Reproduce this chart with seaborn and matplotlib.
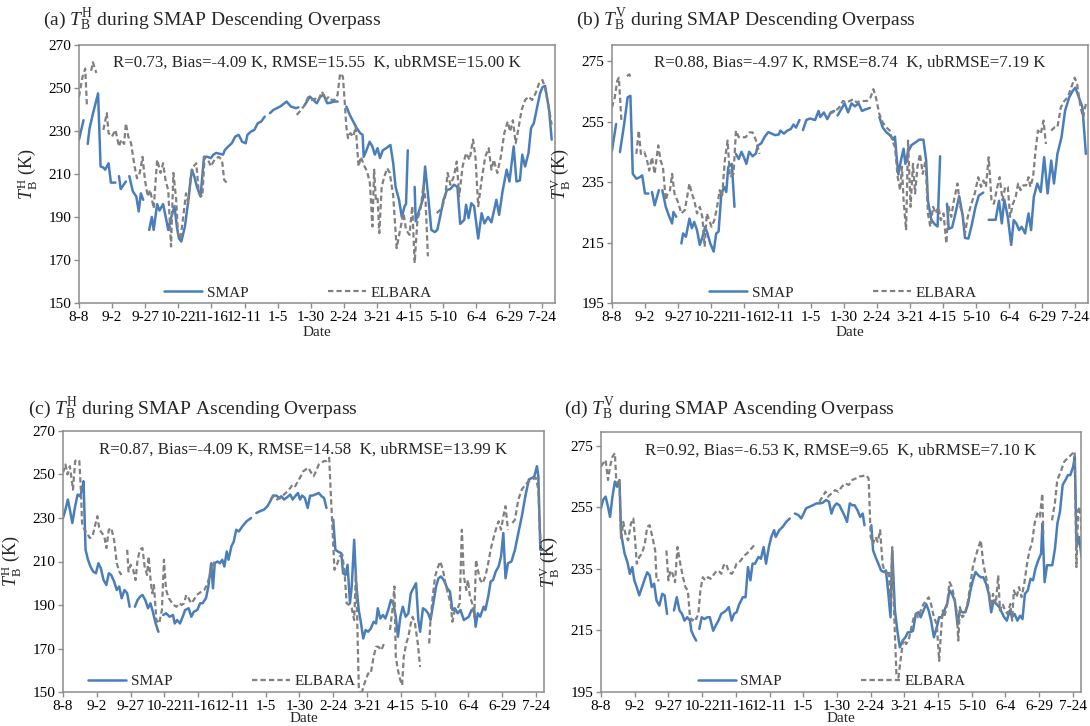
import numpy as np
import pandas as pd
import matplotlib
matplotlib.use("Agg")
import matplotlib.pyplot as plt
from matplotlib.lines import Line2D
import seaborn as sns

# Date ticks every 25 days starting at 8-8
TICK_LABELS = ["8-8", "9-2", "9-27", "10-22", "11-16", "12-11", "1-5", "1-30",
               "2-24", "3-21", "4-15", "5-10", "6-4", "6-29", "7-24"]
TICK_STEP = 25

# (day since 8-8, brightness temperature in K); None marks a gap in the record
A_SMAP = [(0, 226), (3.4, 235), None,
          (6.6, 224), (7.9, 231), (10.5, 238), (14.4, 247.5), (16.3, 213.5), (18.4, 213), (19.7, 212), (22.3, 215), (24.1, 206), (27.5, 206), None,
          (30.2, 209), (31.5, 203), (35.4, 206.5), None,
          (38, 209), (40.6, 202), (43.3, 199.5), (45.1, 192.6), (46.7, 201), (48.5, 198), None,
          (53, 184), (55, 190), (56.4, 184), (59, 196), (60.8, 193), (63.5, 196), (65.5, 190), (67.4, 184), (69.5, 189.5), (72.1, 195),
          (73.9, 185.6), (75.5, 180), (77.3, 178.6), (80, 185.6), (82.6, 198), (85.2, 212), (87, 209), (89.1, 204), (91.8, 199.5),
          (94.4, 218), (97, 218), (99.6, 217.4), (101.5, 219), (103.6, 219.8), (106.2, 219.4), (108.8, 219), (110, 221), (112.7, 222.8),
          (115.4, 224.3), (118, 227.4), (120.6, 228.2), (123.2, 225), (125.9, 224.3), (127.2, 228.2), (129.8, 229.7), (132.4, 230.5),
          (135, 233.6), (137.6, 234.4), (140.3, 236.7), None,
          (144.2, 238.3), (146.8, 239.8), (149.4, 240.6), (152, 241.4), (156.8, 243.7), (160, 241.4), (163.9, 240.6), (165.7, 241), None,
          (170.4, 242), (174.4, 246), (177, 244.4), (179.6, 242.9), (182.2, 246), (184.8, 246.8), (187.5, 242.9), (190, 243.2),
          (192.7, 243.7), (195.3, 243.7), None,
          (201.9, 241.4), (204.5, 237.5), (207.1, 234.4), (209.8, 231.3), (212.4, 229), (214.2, 228.2), (215, 218), (217.1, 221),
          (219.5, 225), (221.6, 222.8), (223.4, 219), (225.5, 222), (227.3, 217.4), (229.4, 221), (232, 222), (235.2, 223.5),
          (237.3, 215), (239.1, 204), (241.7, 198), (243.8, 190), (245.9, 195), (247, 196), (248.3, 221), None,
          (253.5, 204), (254.3, 188), (256.9, 193), (259.6, 198), (261.4, 213.5), (263.5, 201), (266.1, 184), (268.7, 183),
          (270.6, 184), (272.7, 190), (275.3, 198), (277.9, 202.6), (280.5, 203), (283.2, 205), (285.8, 204), (287.9, 186.8),
          (291, 188.7), (292.3, 195.7), (294.2, 189.5), (296.3, 196.4), (298.4, 195), (301.5, 180), (304.1, 191.8), (306.2, 187),
          (308.9, 190), (311.5, 187.5), (315.2, 198), (317.3, 191), (319.9, 202), (323, 212), (325.1, 206.5), (328.3, 222.8),
          (330.4, 206.5), (333, 207), (334.8, 219), (336.9, 213.5), (339.5, 219.8), (341.4, 231.3), (343.5, 233.6), (346.1, 241.4),
          (348.2, 247.5), (350, 250.3), (352, 251), (355, 240), (357, 226)]

A_ELBARA = [(0, 246), (2.6, 255), (4.7, 259), (6, 241.4), None,
            (9.2, 258), (10.5, 262), (13.1, 257), None,
            (18.4, 230.5), (21, 238.3), (22.3, 229), (24.9, 227.4), (27.5, 230.5), (30.2, 222.8), (32, 226), (34.1, 224),
            (35.4, 233.6), (37.2, 227.4), (39.3, 224.3), (42, 213.5), (43.8, 208), (45.9, 210.5), (48, 218), (49.8, 207.3),
            (51.9, 199.5), (53.7, 202.6), (56.4, 194), (59, 216.6), (61.6, 210.5), (63.5, 215), (65.5, 206.5), (67.4, 202.6),
            (69.5, 176.3), (71.3, 210.5), (73.4, 198), (74.7, 182.5), (76.6, 180), (78.7, 190), (80.8, 201), (82.6, 196.4),
            (84.4, 209), (86.5, 213.5), (88.6, 215), (90.5, 201), (93.1, 199.5), (94.9, 218), (97.5, 216.6), (99.6, 213.5),
            (102.3, 216.6), (105.4, 218), (108, 216.6), (109.6, 207.3), (111.4, 206), None,
            (164.4, 237.5), (167.8, 239.8), (170.4, 242), (173, 245.7), (175.7, 244.4), (178.3, 245), (180.9, 244.4),
            (183.5, 248.3), (186.2, 244.4), (188.8, 246), (190.9, 244.4), (192.7, 244.4), (195.3, 246.8), (197.2, 256.8),
            (199.3, 255.3), (200.6, 244.4), (201.9, 232), (203.2, 226.6), (205, 229), (207.1, 227.4), (209, 232), (211.1, 213.5),
            (212.9, 218), (215, 214.3), (217.6, 211.2), (219.7, 205.7), (221.6, 185.6), (222.9, 212), (224.2, 198), (225.5, 199),
            (226.8, 182.5), (228.6, 204), (230.7, 209), (232.8, 212.7), (234.7, 210.5), (237.3, 200), (239.9, 175.5),
            (242.5, 184), (245.1, 191.8), (247, 184), (249.6, 181.7), (251.7, 195), (253.5, 168.6), (255.6, 188.7), (258.3, 195),
            (260.1, 205), (261.7, 198), (263.5, 171.7), None,
            (270.1, 191.8), (274, 194), (276.6, 199.5), (278.4, 210.5), (280.5, 205), (283.2, 209), (285.3, 215.8),
            (287.1, 199.5), (289.7, 213.5), (292.3, 219.7), (295, 216.6), (297.6, 226), (299.4, 218), (301.5, 195),
            (304.1, 207.3), (306.8, 218), (309.4, 222), (311.5, 212), (313.3, 216.6), (315.9, 210.5), (318.6, 218), (321.2, 229),
            (323.8, 234.4), (325.6, 229.7), (327.7, 235), (329.8, 224.3), (331.7, 230.5), (334.3, 239.8), (336.9, 244.4),
            (339.5, 246), (342.2, 244.4), (344.8, 247.5), (347.4, 252), (350, 253.7), (352, 250), (355, 240), (357, 233)]

B_SMAP = [(0, 245.4), (3.1, 254.2), None,
          (6, 244.9), (9.2, 254.2), (11.8, 263), (13.9, 263.5), (15.7, 237.7), (18.4, 236.1), (21, 236.6), (22.8, 237.2),
          (24.9, 231.2), (27.5, 231.2), None,
          (30.2, 231.7), (32.2, 227.3), (35.4, 232.3), None,
          (38, 232.3), (40.6, 226.8), (43.3, 223.5), (45.4, 221.3), (46.4, 225.1), (48.5, 223.5), None,
          (52.4, 214.7), (53.7, 218), (55.8, 216.9), (58.5, 222.9), (60.3, 219.7), (62.1, 221.8), (64.2, 219.1), (66.3, 214.2),
          (68.4, 216.9), (70.3, 220.2), (72.1, 218), (74.2, 214.7), (76.8, 212), (78.7, 218), (80.5, 218.6), (82.6, 231.2),
          (84.7, 233.4), (86.3, 231.7), (87.8, 240), (90.5, 241), (92.5, 226.8), None,
          (93.6, 244.3), (95.7, 242.6), (97.8, 245), (99.6, 243.2), (101.5, 241), (103.6, 245), (106.2, 243.5), (108.8, 244.5),
          (110, 247), (112.7, 247.8), (115.4, 250), (118, 251.5), (120.6, 251), (123.2, 250.5), (125.9, 250.7), (127.2, 252),
          (129.8, 251), (132.4, 252), (135, 252.5), (137.1, 254), (139, 253), (141.6, 255.5), None,
          (144.2, 252.2), (146.8, 255.5), (149.4, 256), (153.4, 255.5), (156, 258.5), (157.3, 256.5), (160, 258), (162.6, 255.8),
          (165.2, 258), (167.8, 258.5), None,
          (170.4, 257), (173, 259), (175.7, 261), (178.3, 258), (180.9, 261), (183.5, 260), (186.2, 261), (188.8, 258.5),
          (191.4, 259), (194.8, 259.5), None,
          (201.9, 256.5), (204.5, 253), (207.1, 251.5), (209.8, 250.5), (212.4, 249), (213.7, 250), (215, 243), (216.3, 237.5),
          (218.4, 242.5), (220.2, 246), (221.6, 241), (223.6, 245), (226.2, 247.2), (228.9, 248), (232, 249), (235.2, 249),
          (237.3, 242), (238.6, 228.8), (241.2, 222.5), (243.8, 221), (245.9, 220.3), (247.8, 243.5), None,
          (253, 227.8), (254.3, 219.5), (256.9, 220), (259.6, 225), (262.2, 230.3), (264.8, 224), (266.6, 216.5), (269.2, 216.3),
          (271.8, 221), (274.4, 226.5), (277, 230.5), (280.4, 231.5), None,
          (284.5, 222.5), (289.7, 222.5), (292.3, 228.8), (294.4, 221.3), (296.3, 229.2), (298.9, 223.5), (301.5, 214.2),
          (303.4, 222.4), (305.4, 221.3), (307.5, 219.1), (309.4, 220.2), (312, 218), (314.6, 224.6), (316.5, 219.1),
          (318.6, 230.1), (321.2, 234.5), (323.8, 231.7), (326.4, 243.2), (329, 231.2), (331.7, 242.1), (333.8, 234.5),
          (336.4, 244.3), (339.5, 249.8), (342.2, 258.6), (345.3, 263), (347.9, 265.1), (350, 266.2), (352.6, 263),
          (355.3, 259.7), (357.9, 244.3)]

B_ELBARA = [(0, 259.7), (2.1, 263), (3.9, 268.4), (5.2, 269.5), (7.1, 255.2), None,
            (11.3, 270), (13.1, 270.6), (14.4, 269), None,
            (18.4, 244.3), (20.2, 252), (21.8, 244.3), (24.4, 244.9), (26.2, 242.7), (28.1, 238.8), (30.2, 243.2), (32.2, 237.7),
            (34.9, 247.1), (36.7, 242.1), (38.5, 239.9), (40.6, 229), (42, 231.2), (43.8, 232.3), (45.4, 237.7), (47.2, 231.2),
            (49.8, 228.4), (52.4, 224.6), (55, 225.7), (58.5, 234.5), (60.3, 231.2), (62.1, 229), (64.2, 224.6), (66.3, 226.8),
            (68.2, 223.5), (70, 213.6), (71.6, 224.6), (73.4, 222.4), (75.2, 220.2), (77.3, 222.4), (79.4, 226.8), (81.3, 232.3),
            (83.1, 230.1), (85.2, 242.1), (87.3, 248.7), (89.1, 236.6), (91.8, 237.7), (93.6, 252), (95.7, 249.8), (98.3, 249.8),
            (100.9, 249.8), (103.6, 251.4), (106.2, 251.4), (108.8, 248.7), (111.4, 244.3), None,
            (163.9, 257.5), (166.5, 258), (169.1, 258.6), (171.7, 259.7), (174.4, 261.8), (177, 261.3), (179.6, 261.8),
            (182.2, 262.4), (184.8, 261.3), (187.5, 261.8), (190, 261.8), (192.7, 261.8), (195.3, 263), (197.4, 265.7),
            (199.3, 263), (201.9, 257.5), (204.5, 254.7), (207.1, 253.1), (209.8, 252), (211.8, 248.7), (213.7, 246.5),
            (215.8, 236.6), (217.6, 232.3), (219, 240), (220.2, 229), (222.1, 219.1), (223.6, 248.7), (225.5, 226.8), (227.3, 241),
            (228.9, 231.2), (230.7, 240), (232.6, 244.3), (234.7, 237.7), (236.8, 242.1), (238.6, 224.6), (240.4, 220.2),
            (242.5, 226.8), (244.6, 224.6), (246.5, 226.8), (248.3, 222.4), (250.4, 224.6), (252.5, 214.7), (254.3, 226.8),
            (256.2, 223.5), (258.3, 229), (260.9, 234.5), (263, 226.8), (264.8, 224.6), (266.6, 218), (268.7, 223.5),
            (271.4, 227.8), (274, 231.2), (276.6, 236.6), (278.7, 233.4), (280.5, 235.5), (282.4, 233.4), (284.5, 243.2),
            (286.6, 229), (288.4, 227.8), (291, 233.4), (292.8, 236.6), (294.9, 229), (297, 233.4), (298.9, 233.4),
            (300.7, 223.5), (302.8, 227.8), (304.9, 230.1), (306.7, 234.5), (308.6, 232.3), (310.7, 233.9), (312.8, 233.9),
            (314.6, 236.6), (316, 233.4), (318, 236.6), (319.9, 245.4), (321.7, 252), (323.8, 250.9), (325.9, 255.3),
            (327.7, 247.6), None,
            (331.7, 252), (334.3, 253.1), (336.4, 253.1), (339, 259.7), (341.6, 261.8), (344.2, 263), (346.8, 266.2),
            (349.5, 269.5), (351.3, 267.3), (353.9, 259.7), (355.8, 256.4), (357.9, 260.8)]

C_SMAP = [(0, 230), (1.8, 233.8), (3.6, 238.5), (5.1, 233.8), (6.9, 227.7), (9, 235.4), (10.8, 240.8), (12.6, 240), (14.1, 243),
          (15.2, 246.9), (16.7, 215.4), (18.5, 210.8), (20.3, 207.7), (22.3, 205.4), (24.4, 204.6), (26.2, 209.2), (28, 206.9),
          (30, 201.5), (32.1, 199.2), (33.9, 204.6), (35.7, 203.8), (37.8, 200.8), (39.8, 196.9), (41.6, 198.5), (43.4, 193.1),
          (45.5, 196.9), (47.5, 195.4), (49.3, 189.2), None,
          (53.2, 189.2), (55.2, 192.3), (57, 193.8), (58.8, 194.6), (60.9, 192.3), (62.9, 188.5), (64.7, 190.8), (66.5, 186.9),
          (68.6, 181.5), (70.6, 177.7), None,
          (74.2, 185.4), (76.3, 186.2), (78.9, 184.6), (81.4, 185.4), (82.7, 181.5), (84.5, 183.1), (86.6, 181.5), (88.6, 184.6),
          (90.4, 187.7), (93, 188.5), (95, 184.6), (96.8, 186.9), (99.4, 187.7), (101.5, 190.8), (103.3, 190.8), (105.8, 193.1),
          (107.6, 198.5), (109.7, 209.2), (111, 197.7), (112.3, 209.2), (114.3, 210), (116.1, 209.2), (117.9, 210.8),
          (119.4, 207.7), (121.2, 214.6), (122.5, 210.8), (124.6, 216.9), (126.4, 219.2), (128.2, 224.6), (130.2, 223.8),
          (132.8, 226.2), (135.9, 228.5), (139.2, 230), None,
          (143.1, 232.3), (145.6, 233.1), (148.7, 233.8), (151.3, 235.4), (153.4, 237.7), (155.4, 240.3), (158, 240.3),
          (159.8, 239.2), (161.6, 240), (163.6, 238.5), (166.2, 239.7), (168.2, 240.8), (170, 238.5), (171.8, 240),
          (173.9, 241.5), (175.4, 238.5), (177, 240.3), (179, 239.2), (181.1, 234.6), (182.9, 240.3), (184.7, 240.3),
          (186.7, 240.8), (189.3, 241.5), (191.4, 240), (193.2, 239.2), (195, 234.6), None,
          (200, 229.2), (201.6, 215.4), (203.4, 214.6), (206, 213.8), (207.3, 204.6), (209.1, 203.8), (210.6, 208.5),
          (212.4, 190.8), (213.7, 198.5), (215.5, 220), (217, 200), (218.9, 187.7), (220.6, 181.5), (222.2, 174.6),
          (224, 178.5), (225.8, 177.7), (227.8, 179.2), (229.9, 182.3), (231.7, 181.5), (233, 188.5), (234.8, 183.8),
          (236.8, 185.4), (238.6, 183.8), (240.7, 187.7), (242.7, 192.3), (244.5, 190.8), (246.3, 184.6), (247.9, 175.4),
          (249.7, 184.6), (251.5, 189.2), (253.6, 184.6), (255.6, 186.2), (257.4, 195.4), (260, 198.5), (261.3, 200),
          (263, 183.1), (264.3, 177.7), (266.4, 188.5), (268.4, 187.7), (270.2, 186.2), (272, 183.1), (274.1, 190.8),
          (276.1, 198.5), (277.9, 202.3), (279.7, 203.1), (281.8, 201.5), (284.4, 197.7), (286.4, 196.2), (288.2, 187.7),
          (290, 188.5), (292.1, 186.2), (294.2, 187.7), (296.7, 183.1), (298.5, 183.8), (300.3, 184.6), (302.4, 187.7),
          (304.4, 187.7), (305.4, 180), (307, 186.2), (308.8, 184.6), (311.3, 189.2), (312.6, 187.7), (314.7, 193.8),
          (316.5, 200.8), (318.3, 201.5), (320.3, 205.4), (322.4, 207.7), (324.2, 212.3), (325.9, 223.1), (327.5, 202.3),
          (329.3, 209.2), (331.9, 210), (334.5, 215.4), (337, 223.1), (339.6, 230.8), (342.2, 240), (344.8, 247.7),
          (348.7, 248.9), (350.8, 253.8), (351.8, 249.2), (353.3, 215.4), (355, 215.4)]

C_ELBARA = [(0, 250.8), (1.8, 254.6), (3.3, 250), (5.1, 253.8), (6.4, 247.7), (7.4, 243), (9, 256.2), (10.8, 256.9),
            (12.1, 256.2), (13.4, 240.8), (14.1, 227.7), (15.9, 224.6), (17.7, 223.1), (19.8, 220.8), (21.8, 221.5),
            (23.6, 226.2), (25.4, 230.8), (27, 224.6), (28.8, 223.1), (30.6, 221.5), (32.1, 216.2), (33.9, 224.6),
            (35.7, 225.4), (37.8, 220), (39.8, 209.2), (41.6, 205.4), (43.4, 203.8), None,
            (47.5, 215.4), (48.5, 205.4), (50.1, 208.5), (51.9, 206.2), (53.7, 201.5), (55.2, 210.8), (57, 215.4), (58.8, 216.2),
            (60.4, 207.7), (62.2, 203.8), (63.4, 212.3), (64.7, 202.3), (66, 195.4), (67.3, 199.2), (69.1, 183.1), (71.2, 181.5),
            (73.2, 187.7), (74.7, 210.8), (76.3, 196.9), (78.3, 193.1), (80.2, 191.5), (81.9, 190), (84, 189.2), (86.1, 190.8),
            (87.9, 190), (89.6, 190.8), (91.2, 194.6), (93, 193.1), (94.8, 190.8), (96.8, 192.3), (98.9, 194.6), (100.7, 195.4),
            (102.5, 196.2), (104.5, 196.9), (106.6, 199.2), (108.4, 203.1), (110.2, 207.7), (112.3, 210), None,
            (153.4, 238.5), (155.9, 240), (158.5, 238.5), (161.1, 239.2), (163.6, 240.8), (166.2, 242.3), (168.2, 243.8),
            (170, 245.4), (171.8, 244.6), (173.9, 246.9), (176, 249.2), (177.8, 251.5), (179.6, 252.3), (181.6, 253.1),
            (183.7, 250.8), (185.5, 249.2), (187.3, 251.5), (189.3, 254.6), (191.4, 255.4), (193.2, 256.2), (195, 256.2),
            (197, 257.7), (198.3, 240), (199.5, 224.6), (200.9, 206.2), (202.7, 208.5), (204.7, 212.3), (206.8, 213.1),
            (208.6, 203.1), (209.9, 190.8), (211.9, 190), (213.7, 188.5), (215.5, 183.1), (216.8, 204.6), (217.6, 187.7),
            (218.9, 152.3), (220.6, 148), (222.2, 152.3), (224, 155.4), (225.8, 158.5), (227.8, 158.5), (229.9, 166.2),
            (231.7, 170.8), (233.5, 170.8), (235.6, 169.2), (237.6, 172.3), None,
            (242, 178.5), (243.8, 187.7), (245.3, 198.5), (246.3, 166.2), (247.9, 160), (249.7, 155.4), (251, 153.1),
            (252.2, 166.2), (254, 172.3), (255.6, 175.4), (257.4, 181.5), (258.7, 184.6), (260.5, 181.5), (262.6, 172.3),
            (264.3, 161.5), None,
            (271, 172.3), (272, 183.1), (273.6, 193.8), (275.4, 203.1), (277.2, 206.9), (279.2, 210), (281.2, 206.2),
            (283, 200), (284.8, 195.4), (286.9, 190.8), (288.2, 182.3), (290, 187.7), (292.1, 188.5), (293.6, 190.8),
            (295.2, 224.6), (296.7, 203.1), (298.5, 196.9), (299.7, 201.5), (301.2, 193.8), (302.8, 190.8), (304.4, 184.6),
            (305.7, 210.8), (307, 206.2), (308.8, 201.5), (310.6, 200), (312.6, 203.1), (314.7, 209.2), (316.5, 215.4),
            (318.3, 220), (320.3, 224.6), (322.4, 228.5), (324.2, 224.6), (325.9, 230.8), (327.5, 235.4), (329.3, 224.6), None,
            (332.6, 227.7), (334.5, 229.2), (337, 238.5), (339.6, 243.1), (342.2, 245.4), (344.8, 246.9), (347.4, 247.7),
            (350, 248.5), (351.8, 243.1), (352.9, 224.6), (354, 215.4)]

D_SMAP = [(0, 254.7), (1.5, 257.4), (3.4, 258.5), (5.2, 255.2), (6.7, 251.9), (8.5, 258.5), (10.3, 263.4), (11.9, 261.7),
          (13.7, 263.9), (14.9, 246.5), (16.2, 243.2), (17.5, 240), (19.6, 237.2), (21.4, 233.4), (23.2, 235.6), (24.7, 231.3),
          (26.5, 229.1), (28.4, 226.4), (30.4, 229.1), (32.5, 231.8), (34.3, 233.9), (36.1, 232.9), (37.6, 229.1),
          (39.4, 230.2), (41.2, 224.7), (43.3, 223.1), (45.4, 226.9), (47.2, 226.4), (49, 220.4), None,
          (54.1, 221.5), (56.2, 225.8), (58.2, 221.5), (60.1, 220.4), (61.9, 218.2), (63.9, 219.3), (66, 218.2), (67, 214.9),
          (68.6, 213.3), (70.6, 211.7), None,
          (72.9, 215.5), (74.7, 219.3), (76.8, 218.7), (78.9, 219.3), (80.7, 219.3), (83.2, 214.9), (85.1, 216.6), (87.1, 218.2),
          (89.2, 220.4), (91, 220.9), (92.8, 221.5), (94.8, 222.6), (96.9, 218.2), (98.7, 220.4), (100.5, 220.9), (102.6, 223.6),
          (105.2, 225.8), (107.2, 225.8), (109, 235.6), (110.8, 231.3), (112.4, 236.7), (114.2, 236.7), (116.8, 238.9),
          (118.6, 238.3), (120.6, 242.1), (122.4, 236.7), (124.5, 242.1), (126.3, 245.4), (128.4, 247.6), (129.6, 245.4),
          (132.2, 247.6), (134.8, 248.7), (137.4, 250.3), (140, 251.4), None,
          (143.8, 253), (146.4, 252.5), (148.5, 251.4), (150.3, 253), (152.1, 254.7), (154.6, 255.2), (157.2, 255.7),
          (159.8, 256.3), (162.4, 256.3), (164.4, 256.5), (167, 257.4), (169.1, 256.8), (170.9, 253), (172.7, 255.2),
          (174.7, 256.3), (176.8, 255.7), (178.6, 254.1), (180.4, 252.5), (182.5, 250.3), (184.5, 256.3), (186.3, 255.7),
          (188.1, 255.7), (190.2, 254.1), (192.3, 251.9), (194.1, 253), (195.4, 249.2), None,
          (200.5, 249.2), (201.8, 241), (203.6, 238.9), (205.7, 236.7), (207.7, 234.5), (209.5, 234), (211.3, 234.5),
          (212.9, 228), (214.7, 219.3), (216, 241), (218, 221.5), (219.8, 214.9), (221.6, 209.5), (223.7, 211.7),
          (225.8, 212.8), (227.6, 214.4), (229.4, 214.4), (231.4, 214.9), (233.5, 220.4), (235.3, 220.9), (237.1, 219.3),
          (239.2, 221.5), (241.2, 223.6), (243, 221.5), (244.8, 218.2), (246.9, 212.8), (249, 216), (250.8, 219.3),
          (252.6, 219.3), (254.6, 221.5), (256.7, 223.6), (258.5, 228), (260.3, 226.9), (262.4, 224.7), (264.4, 217.1),
          (266.2, 221.5), (268, 220.9), (270.1, 220.9), (272.2, 223.6), (274, 228), (275.8, 231.3), (277.8, 234),
          (279.9, 232.9), (281.7, 232.3), (283.5, 232.3), (285.6, 230.2), (287.6, 226.9), (289.4, 220.9), (291.2, 224.7),
          (293.3, 223.6), (295.4, 222.6), (297.2, 220.9), (299, 219.3), (301, 218.2), (303.1, 221.5), (304.9, 219.3),
          (306.7, 220.4), (308.8, 218.2), (310.8, 219.8), (312.6, 218.7), (314.4, 226.9), (316.5, 228), (318.6, 231.8),
          (320.4, 231.3), (322.2, 235.1), (324.3, 237.8), (326.4, 240), (327.4, 249.8), (329, 230.7), (330.8, 236.2),
          (332.6, 236.2), (334.7, 236.2), (336.7, 241.6), (338.5, 249.8), (340.4, 253.6), (342.4, 262.3), (344.5, 263.9),
          (346.3, 265.5), (348.1, 265.5), (350.2, 268.3), (351.4, 271.5), (352.7, 242.1), (354.6, 245.4), (356.4, 238.9)]

D_ELBARA = [(0, 268.3), (1.5, 269.3), (3.4, 270.4), (5.2, 263.9), (6.7, 268.3), (8.5, 271.5), (10.3, 272.6), (11.3, 263.9),
            (12.4, 262.8), (13.7, 263.9), (14.9, 244.3), (16.5, 250.3), (18, 246.5), (20.1, 244.3), (22.2, 249.8), (24, 251.4),
            (25.3, 244.3), (26.5, 236.7), (28.4, 238.9), (30.4, 240), (32.5, 243.2), (34.3, 248.7), (36.1, 249.2),
            (38.1, 245.4), (40.2, 241), (41.2, 231.3), (43.3, 231.3), None,
            (48.5, 241), (50, 231.3), (51.5, 234.5), (53.1, 233.4), (54.9, 230.7), (56.7, 242.1), (58.8, 236.7), (60.8, 232.3),
            (62.6, 229.1), (64.4, 228), (66, 219.3), (67.8, 218.2), (69.1, 219.3), (70.6, 218.7), (72.2, 220.4), (73.7, 228),
            (75.5, 232.3), (77.3, 231.3), (79.4, 232.3), (81.4, 231.8), (83.2, 232.9), (85.1, 234), (87.1, 234.5),
            (89.2, 233.4), (91, 236.2), (92.8, 236.7), (94.8, 234), (96.9, 233.4), (98.7, 234.5), (100.5, 236.7),
            (102.6, 237.2), (104.6, 238.3), (106.4, 239.4), (108.2, 240), (110.3, 241), (112.4, 242.1), (113.7, 242.7), None,
            (161.9, 256.8), (164.4, 258.5), (166.5, 260.1), (168.3, 258.5), (170.9, 259.5), (173.5, 260.6), (176, 260.1),
            (178.6, 261.7), (181.2, 262.8), (183.8, 262.3), (186.3, 263.9), (188.9, 264.4), (191.5, 265), (194.1, 265.2),
            (196.6, 265.5), (198.5, 264.4), (200, 245.4), (201.8, 243.2), (203.6, 245.4), (205.2, 243.8), (207, 247.6),
            (208.8, 236.7), (210.3, 234), (212.1, 233.4), (213.4, 234.5), (214.7, 223.6), (216, 242.1), (217.3, 221.5),
            (219.1, 200.8), (220.6, 199.7), (222.4, 206.2), (224.2, 212.2), (226.3, 210.6), (228.1, 211.7), (230.2, 216),
            (232, 219.3), (233.5, 220.4), (235.3, 219.3), (237.1, 221.5), (239.2, 223.6), (241.2, 224.7), (243, 225.8),
            (244.8, 223.6), (246.9, 219.3), (249, 217.1), (250.8, 205.1), (252.1, 213.9), (253.4, 221.5), (254.6, 219.3),
            (256.7, 223.6), (258.5, 230.7), (260.3, 229.1), (261.9, 225.8), (263.7, 221.5), (265, 211.7), (266.2, 222.6),
            (268, 219.3), (270.1, 220.4), (272.2, 224.7), (274, 230.2), (275.8, 235.6), (277.8, 238.9), (279.9, 242.1),
            (281.7, 244.3), (283.5, 236.8), (285.6, 232.3), (287.6, 228), (289.4, 222.6), (290.7, 226.9), (292.8, 223.6),
            (294.6, 232.9), (295.9, 221.5), (297.9, 223.6), (299.7, 221.5), (301.5, 220.4), (303.6, 223.6), (304.9, 218.2),
            (306.2, 228), (308.2, 225.8), (310, 229.1), (311.9, 225.8), (313.9, 230.2), (316, 236.7), (317.8, 241),
            (319.6, 243.2), (321.6, 249.8), (323.7, 253), (325.5, 251.9), (327.3, 259.5), (328.1, 245.4), None,
            (334.5, 250.8), (336.6, 256.3), (338.4, 263.9), (341, 266.6), (343.6, 269.9), (346.1, 271), (348.7, 272.1),
            (351.3, 273.2), (352.6, 235.6), (353.9, 254.1), (355.2, 255.2), (357.2, 242.1)]

SERIES_NAMES = ["SMAP", "ELBARA"]
SMAP_COLOR = "#4A7EBB"
ELBARA_COLOR = "#808080"

PANELS = [
    dict(data=(A_SMAP, A_ELBARA), pol="H", title="(a) $T_{\\mathrm{B}}^{\\mathrm{H}}$ during SMAP Descending Overpass",
         stats="R=0.73, Bias=-4.09 K, RMSE=15.55  K, ubRMSE=15.00 K",
         ylim=(150, 270), yticks=range(150, 271, 20), xmax=359.5,
         rect_px=(79, 45, 555, 303), title_px=(43, 19), leg_x=0.46, date_y=332),
    dict(data=(B_SMAP, B_ELBARA), pol="V", title="(b) $T_{\\mathrm{B}}^{\\mathrm{V}}$ during SMAP Descending Overpass",
         stats="R=0.88, Bias=-4.97 K, RMSE=8.74  K, ubRMSE=7.19 K",
         ylim=(195, 280.3), yticks=range(195, 276, 20), xmax=359.5,
         rect_px=(612, 45, 1088, 303), title_px=(576, 19), leg_x=0.485, date_y=332),
    dict(data=(C_SMAP, C_ELBARA), pol="H", title="(c) $T_{\\mathrm{B}}^{\\mathrm{H}}$ during SMAP Ascending Overpass",
         stats="R=0.87, Bias=-4.09 K, RMSE=14.58  K, ubRMSE=13.99 K",
         ylim=(150, 270), yticks=range(150, 271, 20), xmax=356,
         rect_px=(63, 431, 544, 692), title_px=(28, 408), leg_x=0.33, date_y=718),
    dict(data=(D_SMAP, D_ELBARA), pol="V", title="(d) $T_{\\mathrm{B}}^{\\mathrm{V}}$ during SMAP Ascending Overpass",
         stats="R=0.92, Bias=-6.53 K, RMSE=9.65  K, ubRMSE=7.10 K",
         ylim=(195, 279.5), yticks=range(195, 276, 20), xmax=356,
         rect_px=(601, 432, 1081, 692), title_px=(564, 408), leg_x=0.48, date_y=718),
]

FIG_W, FIG_H = 1090, 726


def to_frame(points):
    """Turn a gap-separated point list into a frame with a segment id."""
    rows, seg = [], 0
    for p in points:
        if p is None:
            seg += 1
            continue
        rows.append((p[0], p[1], seg))
    return pd.DataFrame(rows, columns=["day", "tb", "seg"])


sns.set_style("ticks")
plt.rcParams["font.family"] = ["Liberation Serif", "DejaVu Serif"]
plt.rcParams["mathtext.fontset"] = "custom"
plt.rcParams["mathtext.rm"] = "Liberation Serif"
plt.rcParams["mathtext.it"] = "Liberation Serif:italic"
plt.rcParams["axes.edgecolor"] = "#8C8C8C"
plt.rcParams["xtick.color"] = "#8C8C8C"
plt.rcParams["ytick.color"] = "#8C8C8C"
plt.rcParams["xtick.labelcolor"] = "black"
plt.rcParams["ytick.labelcolor"] = "black"

fig = plt.figure(figsize=(FIG_W / 100, FIG_H / 100), dpi=100)

for p in PANELS:
    x0, y0, x1, y1 = p["rect_px"]
    ax = fig.add_axes([x0 / FIG_W, 1 - y1 / FIG_H, (x1 - x0) / FIG_W, (y1 - y0) / FIG_H])
    smap_df = to_frame(p["data"][0])
    elb_df = to_frame(p["data"][1])
    sns.lineplot(data=smap_df, x="day", y="tb", units="seg", estimator=None, sort=False,
                 color=SMAP_COLOR, linewidth=1.8, ax=ax, legend=False)
    sns.lineplot(data=elb_df, x="day", y="tb", units="seg", estimator=None, sort=False,
                 color=ELBARA_COLOR, linewidth=1.6, linestyle=(0, (2.4, 1.4)), ax=ax, legend=False)

    ax.set_xlim(0, p["xmax"])
    ax.set_ylim(*p["ylim"])
    ax.set_xticks([i * TICK_STEP for i in range(len(TICK_LABELS))])
    ax.set_xticklabels(TICK_LABELS)
    ax.set_yticks(list(p["yticks"]))
    ax.tick_params(axis="both", labelsize=11, length=3.5, width=1, pad=2)
    for s in ax.spines.values():
        s.set_visible(True)
        s.set_linewidth(1.1)

    ax.set_xlabel("Date", fontsize=11)
    ax.xaxis.label.set_va("center")
    ax.xaxis.set_label_coords(0.5, -(p["date_y"] - y1) / (y1 - y0))
    ax.set_ylabel("$T_{\\mathrm{B}}^{\\mathrm{%s}}$ (K)" % p["pol"], fontsize=13)
    ax.yaxis.set_label_coords(-0.083, 0.5)

    ax.text(0.5, 0.93, p["stats"], transform=ax.transAxes, ha="center", va="center", fontsize=12.2)

    handles = [Line2D([], [], color=SMAP_COLOR, lw=1.8),
               Line2D([], [], color=ELBARA_COLOR, lw=1.6, linestyle=(0, (2.4, 1.4)))]
    ax.legend(handles, SERIES_NAMES, loc="center", bbox_to_anchor=(p["leg_x"], 0.04), ncol=2,
              frameon=False, fontsize=11, handlelength=2.5, handletextpad=0.3, columnspacing=5.2,
              borderpad=0, borderaxespad=0)

    tx, ty = p["title_px"]
    fig.text(tx / FIG_W, 1 - ty / FIG_H, p["title"], ha="left", va="center", fontsize=14)

fig.savefig("out.png", dpi=100)
